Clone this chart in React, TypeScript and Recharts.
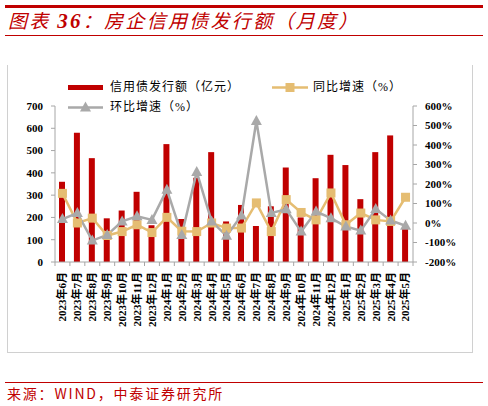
import { Bar, ComposedChart, Line, XAxis, YAxis } from "recharts";

const months = [
  "2023年6月", "2023年7月", "2023年8月", "2023年9月", "2023年10月", "2023年11月",
  "2023年12月", "2024年1月", "2024年2月", "2024年3月", "2024年4月", "2024年5月",
  "2024年6月", "2024年7月", "2024年8月", "2024年9月", "2024年10月", "2024年11月",
  "2024年12月", "2025年1月", "2025年2月", "2025年3月", "2025年4月", "2025年5月"
];

// 信用债发行额（亿元）
const amount = [360, 580, 466, 196, 231, 315, 165, 529, 193, 378, 493, 182, 256, 162, 250, 424, 200, 376, 481, 435, 282, 493, 568, 158];
// 同比增速（%）
const yoy = [152, 0, 25, -64, -44, -9, -49, 29, -42, -44, 0, -26, -26, 103, -44, 120, 54, 16, 154, -9, 51, 16, 8, 132];
// 环比增速（%）
const mom = [20, 51, -90, -61, 8, 34, 16, 171, -61, 262, 8, -66, 38, 523, 51, 70, -44, 59, 25, -18, -39, 72, 13, -14];

const leftTicks = [0, 100, 200, 300, 400, 500, 600, 700];
const rightTicks = [-200, -100, 0, 100, 200, 300, 400, 500, 600];

const data = months.map((month, i) => ({ month, amount: amount[i], yoy: yoy[i], mom: mom[i] }));

const RED = "#c00000";
const GOLD = "#e5bd72";
const GRAY = "#a9a9a9";
const AXIS = "#a6a6a6";
const NUM_FONT = '"Liberation Serif", "Times New Roman", serif';
const CJK_FONT = '"Liberation Serif", "Noto Sans CJK SC", serif';

function MonthTick(props: any) {
  const { x, y, payload, index } = props;
  const half = payload?.offset || 7.46;
  const axisY = y - 10;
  return (
    <g>
      <line x1={x - half} x2={x - half} y1={axisY} y2={axisY + 4} stroke={AXIS} />
      {index === months.length - 1 && <line x1={x + half} x2={x + half} y1={axisY} y2={axisY + 4} stroke={AXIS} />}
      <text
        x={x}
        y={y}
        dy="0.36em"
        textAnchor="end"
        transform={`rotate(-90, ${x}, ${y})`}
        fontFamily={CJK_FONT}
        fontWeight="bold"
        fontSize={11}
        fill="#000"
      >
        {payload.value}
      </text>
    </g>
  );
}

function SquareDot(props: any) {
  const { cx, cy, index } = props;
  if (cx == null || cy == null) return <g key={`s${index}`} />;
  return <rect key={`s${index}`} x={cx - 4.5} y={cy - 4.5} width={9} height={9} fill={GOLD} />;
}

function TriangleDot(props: any) {
  const { cx, cy, index } = props;
  if (cx == null || cy == null) return <g key={`t${index}`} />;
  return <polygon key={`t${index}`} points={`${cx},${cy - 6} ${cx - 5.5},${cy + 4} ${cx + 5.5},${cy + 4}`} fill={GRAY} />;
}

function LegendRow() {
  const text = { fontFamily: CJK_FONT, fontSize: 12, fill: "#000", letterSpacing: 1 } as const;
  return (
    <svg width={488} height={120} style={{ position: "absolute", left: 0, top: 0 }}>
      <rect x={68} y={85} width={35} height={5} fill={RED} />
      <text x={110} y={91} {...text}>信用债发行额（亿元）</text>
      <line x1={272} x2={308} y1={87.5} y2={87.5} stroke={GOLD} strokeWidth={2.5} />
      <rect x={285.5} y={83} width={9} height={9} fill={GOLD} />
      <text x={313} y={91} {...text}>同比增速（%）</text>
      <line x1={68} x2={103} y1={107.5} y2={107.5} stroke={GRAY} strokeWidth={2.5} />
      <polygon points="85.5,101.5 80,111.5 91,111.5" fill={GRAY} />
      <text x={110} y={111} {...text}>环比增速（%）</text>
    </svg>
  );
}

export default function App() {
  return (
    <div style={{ position: "absolute", left: 0, top: 0, width: 488, height: 406, background: "#fff", overflow: "hidden" }}>
      <div style={{ position: "absolute", left: 5, top: 5, width: 478, height: 2.5, background: RED }} />
      <div
        style={{
          position: "absolute",
          left: 8,
          top: 6,
          fontFamily: '"Noto Sans CJK SC", sans-serif',
          fontStyle: "italic",
          fontSize: 19,
          letterSpacing: 2.3,
          color: RED,
          whiteSpace: "nowrap"
        }}
      >
        图表 <b style={{ fontFamily: NUM_FONT, fontSize: 21 }}>36</b>：房企信用债发行额（月度）
      </div>
      <div style={{ position: "absolute", left: 5, top: 35, width: 478, height: 1, background: RED }} />

      <div
        style={{
          position: "absolute",
          left: 7,
          top: 65,
          width: 464,
          height: 287,
          borderLeft: "1px solid #d0d0d0",
          borderRight: "1px solid #d0d0d0",
          borderBottom: "1px solid #d0d0d0"
        }}
      />

      <div style={{ position: "absolute", left: 0, top: 0 }}>
        <ComposedChart width={488} height={406} data={data} margin={{ top: 106, right: 15, bottom: 74, left: 8 }}>
          <XAxis
            dataKey="month"
            interval={0}
            tickSize={0}
            tickMargin={10}
            height={70}
            axisLine={{ stroke: AXIS }}
            tickLine={false}
            tick={<MonthTick />}
          />
          <YAxis
            yAxisId="left"
            width={47}
            domain={[0, 700]}
            ticks={leftTicks}
            interval={0}
            tickSize={4}
            tickMargin={8}
            axisLine={{ stroke: AXIS }}
            tickLine={{ stroke: AXIS }}
            tick={{ fontFamily: NUM_FONT, fontWeight: "bold", fontSize: 11, fill: "#000" }}
          />
          <YAxis
            yAxisId="right"
            orientation="right"
            width={60}
            domain={[-200, 600]}
            ticks={rightTicks}
            interval={0}
            tickSize={4}
            tickMargin={8}
            tickFormatter={(v) => `${v}%`}
            axisLine={{ stroke: AXIS }}
            tickLine={{ stroke: AXIS }}
            tick={{ fontFamily: NUM_FONT, fontWeight: "bold", fontSize: 11, fill: "#000", textAnchor: "start" }}
          />
          <Bar yAxisId="left" dataKey="amount" fill={RED} barSize={6} isAnimationActive={false} />
          <Line
            yAxisId="right"
            dataKey="yoy"
            type="linear"
            stroke={GOLD}
            strokeWidth={2.5}
            dot={<SquareDot />}
            activeDot={false}
            isAnimationActive={false}
          />
          <Line
            yAxisId="right"
            dataKey="mom"
            type="linear"
            stroke={GRAY}
            strokeWidth={2.5}
            dot={<TriangleDot />}
            activeDot={false}
            isAnimationActive={false}
          />
        </ComposedChart>
      </div>

      <LegendRow />

      <div style={{ position: "absolute", left: 5, top: 382, width: 478, height: 1, background: RED }} />
      <div
        style={{
          position: "absolute",
          left: 7,
          top: 383,
          fontFamily: '"Noto Sans CJK SC", sans-serif',
          fontSize: 14,
          letterSpacing: 1.8,
          color: RED,
          whiteSpace: "nowrap"
        }}
      >
        来源：WIND，中泰证券研究所
      </div>
    </div>
  );
}
